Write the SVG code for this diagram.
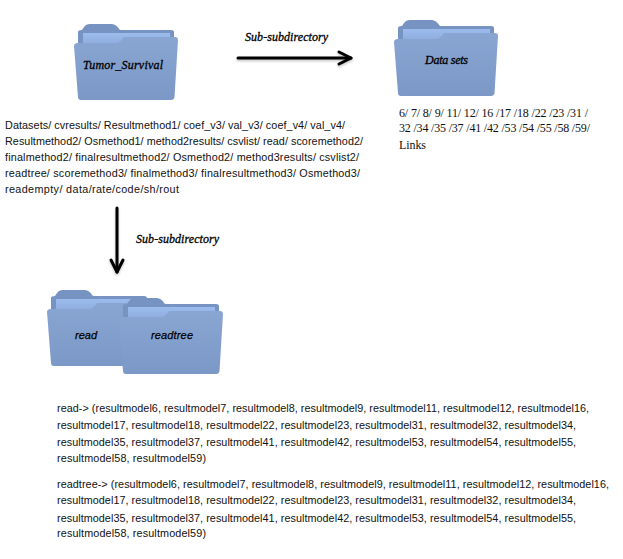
<svg xmlns="http://www.w3.org/2000/svg" width="623" height="559" viewBox="0 0 623 559">
<style>
.s{font-family:"Liberation Sans",Arial,sans-serif;font-size:10.8px;fill:#111}
.t{font-family:"Liberation Serif","Times New Roman",serif;font-size:12px;fill:#111}
.l{font-family:"Liberation Serif","Times New Roman",serif;font-size:12px;font-style:italic;fill:#000;stroke:#000;stroke-width:.3}
.li{font-family:"Liberation Sans",Arial,sans-serif;font-size:11px;font-style:italic;fill:#000;stroke:#000;stroke-width:.25}
.a{fill:none;stroke:#000;stroke-width:3;stroke-linecap:round;stroke-linejoin:round}
</style>
<defs>
<linearGradient id="fg" x1="0" y1="0" x2="0" y2="1"><stop offset="0" stop-color="#89a5d2"/><stop offset="1" stop-color="#7c98c6"/></linearGradient>
<linearGradient id="pg" x1="0" y1="0" x2="0" y2="1"><stop offset="0" stop-color="#9dbcee"/><stop offset="1" stop-color="#8cabdc"/></linearGradient>
<filter id="sh" x="-10%" y="-10%" width="120%" height="130%"><feDropShadow dx="0" dy="1.5" stdDeviation="1.2" flood-color="#000" flood-opacity=".25"/></filter>
<symbol id="folder" viewBox="0 0 104 76" preserveAspectRatio="none" overflow="visible">
<path d="M4 30 V8 Q4 6 8 6 L10 3 Q12 0 16 0 H38 Q42 0 46 6 H97 Q100 6 100 8 V30 Z" fill="#7793c1"/>
<path d="M9 9 H96 V22 H9 Z" fill="url(#pg)"/>
<path d="M0 22 Q0 19 4 19 H42 Q46 19 50 13 H101 Q104 13 104 16 L100.5 73 Q100 76 97 76 H7 Q4 76 4 73 Z" fill="url(#fg)"/>
</symbol>
<marker id="head" markerUnits="userSpaceOnUse" markerWidth="20" markerHeight="20" refX="14" refY="10" orient="auto" overflow="visible">
<path d="M2 4 L14 10 L2 16" class="a"/>
</marker>
</defs>
<rect width="623" height="559" fill="#fff"/>
<g id="connectors" filter="url(#sh)">
<path class="a" d="M238 58 H351" marker-end="url(#head)"/>
<path class="a" d="M117 208 V272" marker-end="url(#head)"/>
</g>
<g id="node-tumor-survival">
<use href="#folder" x="74" y="24" width="104" height="76"/>
<text class="l" x="83" y="69" textLength="80">Tumor_Survival</text>
</g>
<g id="node-data-sets">
<use href="#folder" x="394" y="20" width="104" height="76"/>
<text class="l" x="425" y="64" textLength="43">Data sets</text>
</g>
<g id="node-read">
<use href="#folder" x="47" y="290" width="104" height="76"/>
<text class="li" x="75" y="339" textLength="22">read</text>
</g>
<g id="node-readtree">
<use href="#folder" x="119" y="298" width="104" height="76"/>
<text class="li" x="151" y="339" textLength="42">readtree</text>
</g>
<g id="labels">
<text class="l" x="245" y="41" textLength="83">Sub-subdirectory</text>
<text class="l" x="136" y="243" textLength="83">Sub-subdirectory</text>
</g>
<g id="directory-list">
<text class="s" x="5" y="129" textLength="340">Datasets/ cvresults/ Resultmethod1/ coef_v3/ val_v3/ coef_v4/ val_v4/</text>
<text class="s" x="5" y="145" textLength="358">Resultmethod2/ Osmethod1/ method2results/ csvlist/ read/ scoremethod2/</text>
<text class="s" x="5" y="161" textLength="354">finalmethod2/ finalresultmethod2/ Osmethod2/ method3results/ csvlist2/</text>
<text class="s" x="5" y="177" textLength="355">readtree/ scoremethod3/ finalmethod3/ finalresultmethod3/ Osmethod3/</text>
<text class="s" x="5" y="193" textLength="174">readempty/ data/rate/code/sh/rout</text>
</g>
<g id="dataset-list">
<text class="t" x="399" y="117" textLength="189">6/ 7/ 8/ 9/ 11/ 12/ 16 /17 /18 /22 /23 /31 /</text>
<text class="t" x="399" y="132" textLength="191">32 /34 /35 /37 /41 /42 /53 /54 /55 /58 /59/</text>
<text class="t" x="399" y="149" textLength="27">Links</text>
</g>
<g id="read-list">
<text class="s" x="57" y="412" textLength="532">read-&gt; (resultmodel6, resultmodel7, resultmodel8, resultmodel9, resultmodel11, resultmodel12, resultmodel16,</text>
<text class="s" x="57" y="429" textLength="519">resultmodel17, resultmodel18, resultmodel22, resultmodel23, resultmodel31, resultmodel32, resultmodel34,</text>
<text class="s" x="57" y="446" textLength="519">resultmodel35, resultmodel37, resultmodel41, resultmodel42, resultmodel53, resultmodel54, resultmodel55,</text>
<text class="s" x="57" y="462" textLength="149">resultmodel58, resultmodel59)</text>
</g>
<g id="readtree-list">
<text class="s" x="57" y="488" textLength="552">readtree-&gt; (resultmodel6, resultmodel7, resultmodel8, resultmodel9, resultmodel11, resultmodel12, resultmodel16,</text>
<text class="s" x="57" y="504" textLength="519">resultmodel17, resultmodel18, resultmodel22, resultmodel23, resultmodel31, resultmodel32, resultmodel34,</text>
<text class="s" x="57" y="522" textLength="519">resultmodel35, resultmodel37, resultmodel41, resultmodel42, resultmodel53, resultmodel54, resultmodel55,</text>
<text class="s" x="57" y="537" textLength="149">resultmodel58, resultmodel59)</text>
</g>
</svg>
